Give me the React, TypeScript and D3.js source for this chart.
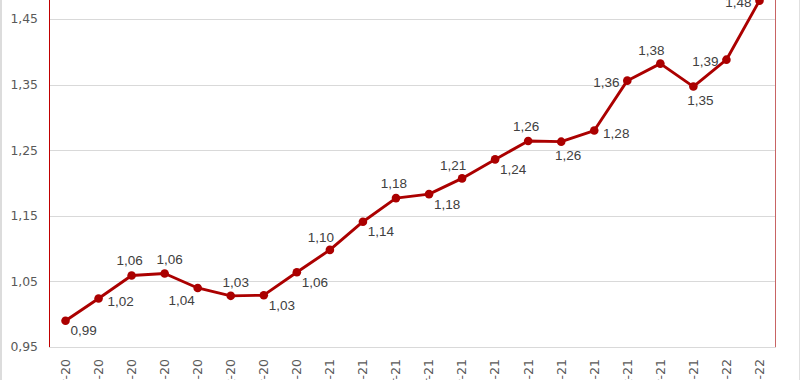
import React from "react";
import * as d3 from "d3";

const categories = [
  "may-20", "jun-20", "jul-20", "ago-20", "sep-20", "oct-20", "nov-20", "dic-20",
  "ene-21", "feb-21", "mar-21", "abr-21", "may-21", "jun-21", "jul-21", "ago-21",
  "sep-21", "oct-21", "nov-21", "dic-21", "ene-22", "feb-22",
];

const values = [
  0.990, 1.024, 1.059, 1.062, 1.040, 1.028, 1.029, 1.064,
  1.098, 1.141, 1.177, 1.183, 1.207, 1.236, 1.264, 1.263,
  1.280, 1.356, 1.382, 1.347, 1.388, 1.478,
];

// label placement keyword for each point
const labelPlacement = [
  "br", "r", "a", "ar", "bl", "ar", "br", "br",
  "al", "br", "a", "br", "al", "br", "a", "b",
  "r", "l", "al", "b", "l", "l",
];

const yTicks = [0.95, 1.05, 1.15, 1.25, 1.35, 1.45];

const W = 800;
const H = 380;
const LEFT = 49;
const RIGHT = 776;
const BOTTOM = 347;
const TOP = 19;

const LINE_COLOR = "#ab0000";

const offsets: Record<string, [number, number]> = {
  a: [-2, -15],
  ar: [5, -14],
  al: [-9, -13],
  b: [7, 14],
  bl: [-16, 12],
  br: [18, 10],
  r: [22, 3],
  l: [-21, 2],
};

const fmt = (v: number) => d3.format(".2f")(v).replace(".", ",");

export default function App() {
  const x = d3.scaleBand<string>().domain(categories).range([LEFT, RIGHT]);
  const y = d3.scaleLinear().domain([0.95, 1.45]).range([BOTTOM, TOP]);
  const cx = (c: string) => (x(c) as number) + x.bandwidth() / 2;

  const line = d3
    .line<number>()
    .x((_, i) => cx(categories[i]))
    .y((d) => y(d));

  return (
    <svg
      width={W}
      height={H}
      style={{ position: "fixed", left: 0, top: 0, background: "#fff" }}
    >
      <rect x={0} y={0} width={W} height={H} fill="#fff" />
      <line x1={1} x2={1} y1={0} y2={H} stroke="#dcdcdc" strokeWidth={2} />
      <line x1={799.5} x2={799.5} y1={0} y2={H} stroke="#e0e0e0" strokeWidth={1} />

      {yTicks.map((t) => (
        <g key={t}>
          <line
            x1={LEFT}
            x2={RIGHT}
            y1={Math.round(y(t)) + 0.5}
            y2={Math.round(y(t)) + 0.5}
            stroke="#d9d9d9"
            strokeWidth={1}
          />
          <text
            x={38}
            y={y(t)}
            dy="0.35em"
            textAnchor="end"
            fontFamily="DejaVu Sans"
            fontSize={12.4}
            fill="#595959"
          >
            {fmt(t)}
          </text>
        </g>
      ))}

      <line x1={LEFT + 0.5} x2={LEFT + 0.5} y1={0} y2={BOTTOM} stroke="#c00000" strokeWidth={1} />
      <line x1={RIGHT - 0.5} x2={RIGHT - 0.5} y1={0} y2={BOTTOM} stroke="#c86464" strokeWidth={1} />

      {categories.map((c) => (
        <text
          key={c}
          transform={`translate(${cx(c)},359) rotate(-90)`}
          dy="0.35em"
          textAnchor="end"
          fontFamily="DejaVu Sans"
          fontSize={12.5}
          fill="#595959"
        >
          {c}
        </text>
      ))}

      <path
        d={line(values) as string}
        fill="none"
        stroke={LINE_COLOR}
        strokeWidth={2.9}
        strokeLinejoin="round"
      />
      {values.map((v, i) => (
        <circle key={i} cx={cx(categories[i])} cy={y(v)} r={4.3} fill={LINE_COLOR} />
      ))}
      {values.map((v, i) => {
        const [dx, dy] = offsets[labelPlacement[i]];
        return (
          <text
            key={"l" + i}
            x={cx(categories[i]) + dx}
            y={y(v) + dy}
            dy="0.35em"
            textAnchor="middle"
            fontFamily="Liberation Sans"
            fontSize={13.5}
            fill="#404040"
          >
            {fmt(v)}
          </text>
        );
      })}
    </svg>
  );
}
